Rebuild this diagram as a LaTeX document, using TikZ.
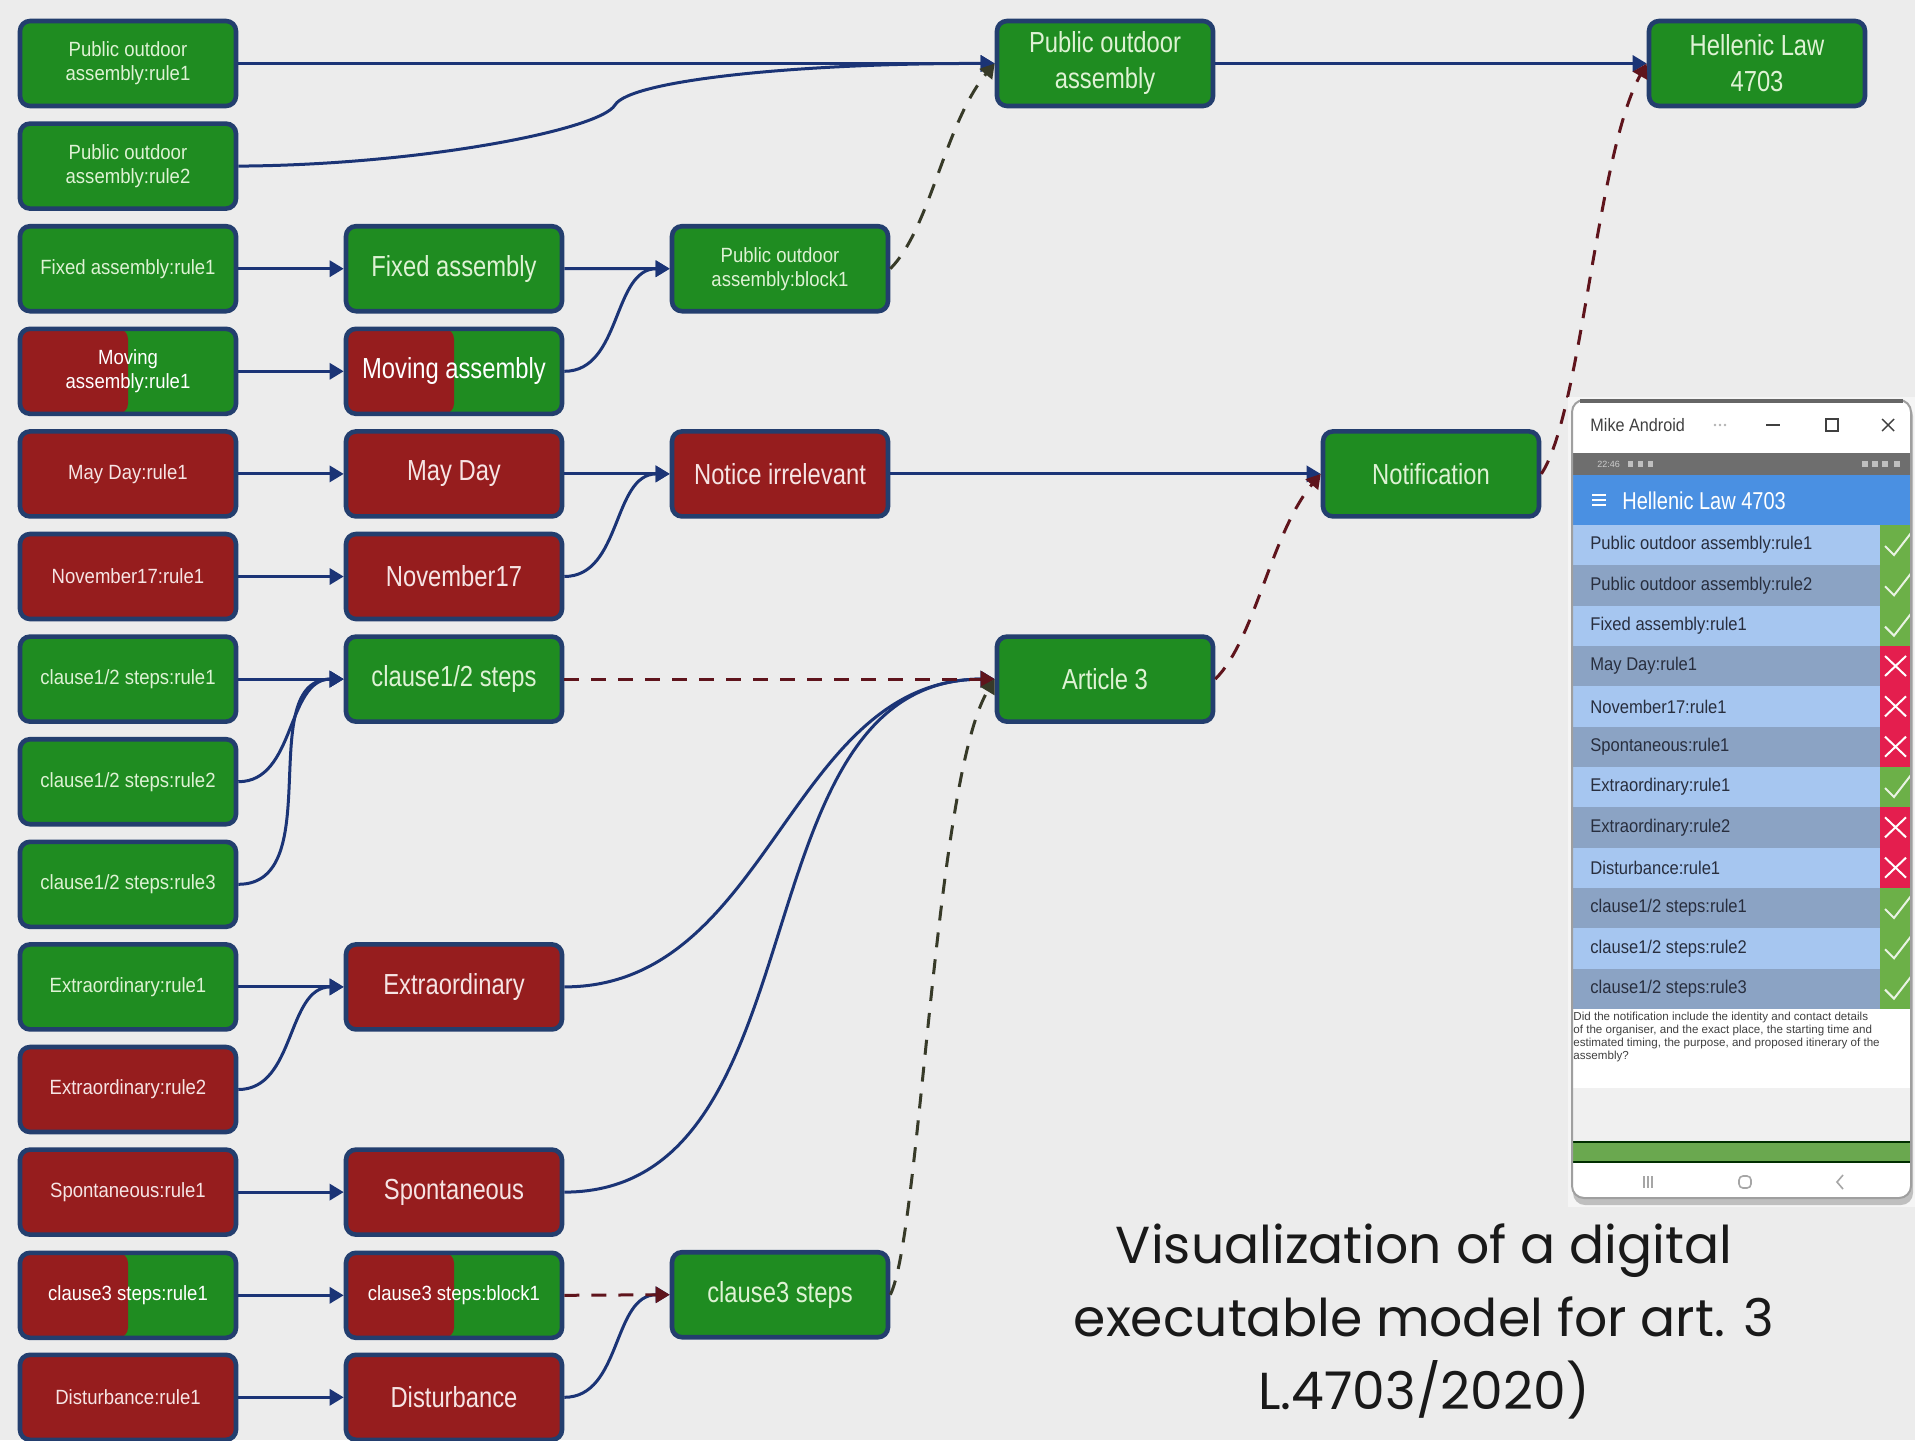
\documentclass[tikz,border=0pt]{standalone}
\usepackage{fontspec}
\usetikzlibrary{arrows.meta}
\newfontfamily\smallsans[FakeStretch=0.9]{Liberation Sans}
\newfontfamily\bigsans[FakeStretch=0.82]{Liberation Sans}
\newfontfamily\plainsans{Liberation Sans}
\newfontfamily\capfont{Poppins}
\definecolor{bgcol}{RGB}{236,236,236}
\definecolor{okgreen}{RGB}{31,140,33}
\definecolor{nored}{RGB}{150,29,30}
\definecolor{nodeborder}{RGB}{35,62,110}
\definecolor{linkblue}{RGB}{27,52,118}
\definecolor{dashred}{RGB}{95,20,28}
\definecolor{dasholive}{RGB}{55,58,40}
\definecolor{oktext}{RGB}{222,242,212}
\definecolor{notext}{RGB}{246,228,228}
\definecolor{rowlight}{RGB}{166,198,240}
\definecolor{rowdark}{RGB}{139,163,196}
\definecolor{rowtext}{RGB}{40,46,62}
\definecolor{statgreen}{RGB}{108,176,72}
\definecolor{statred}{RGB}{228,30,78}
\definecolor{hdrblue}{RGB}{74,144,226}
\definecolor{navgreen}{RGB}{106,168,79}
\tikzset{
  rulebox/.style={draw=nodeborder, line width=2.3pt, rounded corners=5pt, minimum width=108pt, minimum height=42.5pt, inner sep=2pt, align=center, font=\smallsans\fontsize{10.3}{12}\selectfont},
  bigtext/.style={font=\bigsans\fontsize{14.5}{18}\selectfont},
  halfbox/.style={rulebox, fill=okgreen, text=white, path picture={\fill[nored] (path picture bounding box.south west) rectangle (path picture bounding box.north);}},
  link/.style={draw=linkblue, line width=1.5pt, -{Triangle[length=7pt,width=8pt]}},
  dlink/.style={line width=1.5pt, dash pattern=on 7.5pt off 6pt, -{Triangle[length=7pt,width=8pt]}}
}
\begin{document}
\begin{tikzpicture}[x=0.5pt, y=-0.5pt]
  \useasboundingbox (0,0) rectangle (1915,1440);
  \fill[bgcol] (0,0) rectangle (1915,1440);

  % rules
  \foreach \nm/\r/\fc/\tc/\txt in {por1/0/okgreen/oktext/{Public outdoor\\assembly:rule1},
      por2/1/okgreen/oktext/{Public outdoor\\assembly:rule2}, far1/2/okgreen/oktext/{Fixed assembly:rule1},
      mdr1/4/nored/notext/{May Day:rule1}, nvr1/5/nored/notext/{November17:rule1},
      csr1/6/okgreen/oktext/{clause1/2 steps:rule1}, csr2/7/okgreen/oktext/{clause1/2 steps:rule2},
      csr3/8/okgreen/oktext/{clause1/2 steps:rule3}, exr1/9/okgreen/oktext/{Extraordinary:rule1},
      exr2/10/nored/notext/{Extraordinary:rule2}, spr1/11/nored/notext/{Spontaneous:rule1},
      dsr1/13/nored/notext/{Disturbance:rule1}}
    \node[rulebox, fill=\fc, text=\tc] (\nm) at (128,{63.5+102.6*\r}) {\txt};
  \node[halfbox] (mar1) at (128,371.3) {Moving\\assembly:rule1};
  \node[halfbox] (c3r1) at (128,1295.3) {clause3 steps:rule1};

  % blocks
  \foreach \nm/\x/\r/\fc/\tc/\txt in {fixed/454/2/okgreen/oktext/{Fixed assembly},
      mayday/454/4/nored/notext/{May Day}, nov/454/5/nored/notext/{November17},
      cls/454/6/okgreen/oktext/{clause1/2 steps}, extra/454/9/nored/notext/{Extraordinary},
      spont/454/11/nored/notext/{Spontaneous}, dist/454/13/nored/notext/{Disturbance},
      notice/780/4/nored/notext/{Notice irrelevant}, c3st/780/12/okgreen/oktext/{clause3 steps},
      poa/1105/0/okgreen/oktext/{Public outdoor\\assembly}, art/1105/6/okgreen/oktext/{Article 3},
      notif/1431/4/okgreen/oktext/{Notification}, law/1757/0/okgreen/oktext/{Hellenic Law\\4703}}
    \node[rulebox, bigtext, fill=\fc, text=\tc] (\nm) at (\x,{63.5+102.6*\r}) {\txt};
  \node[halfbox, bigtext] (moving) at (454,371.3) {Moving assembly};
  \node[halfbox] (c3blk) at (454,1295.3) {clause3 steps:block1};
  \node[rulebox, fill=okgreen, text=oktext] (poblk) at (780,268.7) {Public outdoor\\assembly:block1};

  % straight links
  \foreach \a/\b in {por1/poa, far1/fixed, mar1/moving, mdr1/mayday, nvr1/nov, csr1/cls, exr1/extra,
      spr1/spont, c3r1/c3blk, dsr1/dist, fixed/poblk, mayday/notice, notice/notif, poa/law}
    \draw[link] (\a.east) -- (\b.west);
  % bent links
  \foreach \a/\b in {moving/poblk, nov/notice, csr2/cls, csr3/cls, exr2/extra, extra/art, spont/art, dist/c3st}
    \draw[link] (\a.east) to[out=0, in=180] (\b.west);
  \draw[link] (por2.east) .. controls (420,165) and (600,130) .. (615,105)
    .. controls (630,80) and (800,63) .. (poa.west);

  % dashed links
  \draw[dlink, dashred] (cls.east) -- (art.west);
  \draw[dlink, dashred] (c3blk.east) -- (c3st.west);
  \draw[dlink, dashred] (art.east) .. controls +(40,-40) and +(-50,60) .. (notif.west);
  \draw[dlink, dashred] (notif.east) .. controls +(40,-60) and +(-50,90) .. (law.west);
  \draw[dlink, dasholive] (poblk.east) .. controls +(40,-40) and +(-50,60) .. (poa.west);
  \draw[dlink, dasholive] (c3st.east) .. controls +(30,-60) and +(-60,100) .. (art.west);

  % phone screenshot
  \fill[white!96!black] (1568,397) rectangle (1915,1207);
  \fill[black!25, rounded corners=6pt] (1573,404) rectangle (1913,1205);
  \fill[white, rounded corners=6pt] (1572,400) rectangle (1911,1198);
  \node[anchor=west, inner sep=0, text=black!75, font=\smallsans\fontsize{9}{10}\selectfont] (owner) at (1590,425) {Mike Android};
  \foreach \k in {-5,0,5} \fill[gray!60] ({1720+\k},425) circle (0.7pt);
  \draw[black!75, line width=0.7pt] (1766,425) -- (1780,425);
  \draw[black!75, line width=0.7pt] (1826,419) rectangle (1838,431);
  \draw[black!75, line width=0.7pt] (1882,419) -- (1894,431) (1882,431) -- (1894,419);
  \fill[black!57] (1572,453) rectangle (1911,475);
  \node[anchor=west, inner sep=0, text=white!80!black, font=\plainsans\fontsize{4.5}{5}\selectfont] (clock) at (1597,464) {22:46};
  \foreach \x in {1628,1638,1648} \fill[white!75!black] (\x,461) rectangle ++(5,6);
  \foreach \x in {1862,1872,1882,1894} \fill[white!75!black] (\x,461) rectangle ++(6,6);
  \fill[hdrblue] (1572,475) rectangle (1911,525);
  \foreach \k in {-5,0,5} \draw[white, line width=0.8pt] (1592,{500+\k}) -- (1606,{500+\k});
  \node[anchor=west, inner sep=0, text=white, font=\bigsans\fontsize{12.2}{14}\selectfont] (apptitle) at (1622,501) {Hellenic Law 4703};
  \foreach \i/\rc/\txt in {0/rowlight/{Public outdoor assembly:rule1}, 1/rowdark/{Public outdoor assembly:rule2},
      2/rowlight/{Fixed assembly:rule1}, 3/rowdark/{May Day:rule1}, 4/rowlight/{November17:rule1},
      5/rowdark/{Spontaneous:rule1}, 6/rowlight/{Extraordinary:rule1}, 7/rowdark/{Extraordinary:rule2},
      8/rowlight/{Disturbance:rule1}, 9/rowdark/{clause1/2 steps:rule1}, 10/rowlight/{clause1/2 steps:rule2},
      11/rowdark/{clause1/2 steps:rule3}} {
    \fill[\rc] (1572,{525+40.33*\i}) rectangle (1880,{565.33+40.33*\i});
    \node[anchor=west, inner sep=0, text=rowtext, font=\smallsans\fontsize{9.2}{11}\selectfont] (row\i) at (1590,{545.2+40.33*\i}) {\txt};
  }
  \foreach \i in {0,1,2,6,9,10,11} {
    \fill[statgreen] (1880,{525+40.33*\i}) rectangle (1911,{565.33+40.33*\i});
    \draw[white!85!statgreen, line width=1pt] (1885,{546+40.33*\i}) -- (1894,{555+40.33*\i}) -- (1911,{533+40.33*\i});
  }
  \foreach \i in {3,4,5,7,8} {
    \fill[statred] (1880,{525+40.33*\i}) rectangle (1911,{565.33+40.33*\i});
    \draw[white, line width=1pt] (1885,{535+40.33*\i}) -- (1906,{555+40.33*\i}) (1885,{555+40.33*\i}) -- (1906,{535+40.33*\i});
  }
  \node[anchor=north west, align=left, inner sep=0, text=black!75, font=\plainsans\fontsize{5.8}{6.5}\selectfont] (quest) at (1573,1012)
    {Did the notification include the identity and contact details\\of the organiser, and the exact place, the starting time and\\estimated timing, the purpose, and proposed itinerary of the\\assembly?};
  \fill[black!6] (1572,1088) rectangle (1911,1142);
  \fill[navgreen] (1572,1142) rectangle (1911,1162);
  \draw[black!70!green!60!black, line width=1pt] (1572,1142) -- (1911,1142) (1572,1162) -- (1911,1162);
  \foreach \k in {-4,0,4} \draw[gray!70, line width=0.6pt] ({1648+\k},1176) -- ({1648+\k},1188);
  \draw[gray!70, line width=0.8pt, rounded corners=2pt] (1739,1176) rectangle (1751,1188);
  \draw[gray!70, line width=0.8pt] (1843,1175) -- (1837,1182) -- (1843,1189);
  \draw[gray!75, line width=1pt, rounded corners=6pt] (1572,400) rectangle (1911,1198);
  \draw[black!60, line width=2pt] (1580,401) -- (1903,401);

  % caption
  \node[align=center, text=black!90, font=\capfont\fontsize{26}{36.5}\selectfont] (caption) at (1424,1321)
    {Visualization of a digital\\executable model for art. 3\\L.4703/2020)};
\end{tikzpicture}
\end{document}
